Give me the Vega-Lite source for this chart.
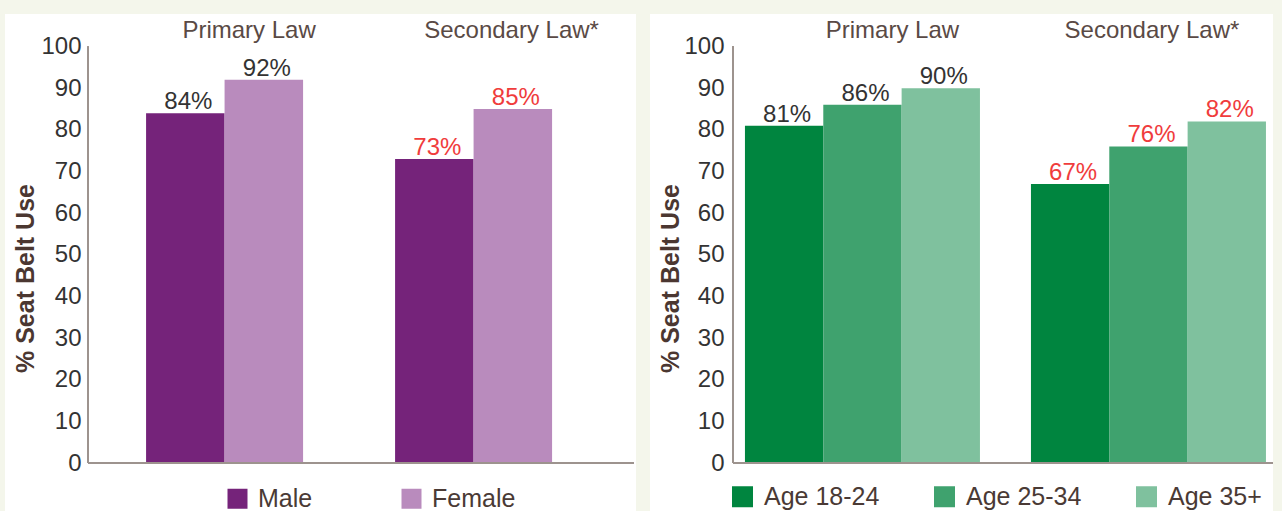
{
  "$schema": "https://vega.github.io/schema/vega-lite/v6.json",
  "background": "#f4f6eb",
  "padding": {"left": 5, "top": 14, "right": 9, "bottom": 0},
  "spacing": 14,
  "config": {"view": {"fill": "white", "stroke": null}, "font": "Liberation Sans"},
  "resolve": {"scale": {"color": "independent"}, "legend": {"color": "independent"}},
  "hconcat": [
    {
      "width": 631,
      "height": 497,
      "data": {"values": [
        {"law": "Primary Law", "group": "Male", "value": 84, "label": "84%"},
        {"law": "Primary Law", "group": "Female", "value": 92, "label": "92%"},
        {"law": "Secondary Law*", "group": "Male", "value": 73, "label": "73%"},
        {"law": "Secondary Law*", "group": "Female", "value": 85, "label": "85%"}
      ]},
      "layer": [
        {
          "mark": {"type": "bar"},
          "encoding": {
            "x": {"field": "law", "type": "nominal",
              "scale": {"type": "band", "domain": ["Primary Law", "Secondary Law*"], "paddingInner": 0.3695, "paddingOuter": 0.4518, "align": 0.627},
              "axis": {"orient": "top", "offset": -23.5, "ticks": false, "tickSize": 0, "domain": false, "labelPadding": 0, "labelAngle": 0, "labelBaseline": "alphabetic", "labelFontSize": 24, "labelColor": "#5a4a45", "labelFont": "Liberation Sans", "labelLimit": 400, "title": null,
                "labelOffset": {"condition": {"test": "datum.value === 'Primary Law'", "value": 24.5}, "value": 38}}},
            "xOffset": {"field": "group", "type": "nominal", "scale": {"type": "band", "domain": ["Male", "Female"], "range": [0, 157], "paddingInner": 0, "paddingOuter": 0}},
            "y": {"field": "value", "type": "quantitative",
              "scale": {"domain": [-11.52, 107.8], "nice": false, "zero": false},
              "axis": {"orient": "left", "offset": -83, "values": [0, 10, 20, 30, 40, 50, 60, 70, 80, 90, 100], "domain": false, "ticks": false, "grid": false, "labelPadding": 7, "labelFontSize": 24, "labelColor": "#333333", "labelFont": "Liberation Sans",
                "title": "% Seat Belt Use", "titleFont": "Liberation Sans", "titleFontSize": 25, "titleFontWeight": "bold", "titleColor": "#4b3731", "titleX": -55, "titleY": 264, "titleBaseline": "alphabetic", "titleAngle": -90}},
            "y2": {"datum": 0},
            "color": {"field": "group", "type": "nominal",
              "scale": {"domain": ["Male", "Female"], "range": ["#75237a", "#b98bbd"]},
              "legend": {"orient": "none", "legendX": 220, "legendY": 472, "direction": "horizontal", "title": null, "symbolType": "square", "symbolSize": 400, "symbolStrokeWidth": 0, "symbolOpacity": 1, "labelFontSize": 25, "labelColor": "#4a3a35", "labelFont": "Liberation Sans", "columnPadding": 86, "labelOffset": 8, "padding": 0}}
          }
        },
        {
          "mark": {"type": "text", "baseline": "alphabetic", "dy": -4, "dx": 3, "fontSize": 24, "font": "Liberation Sans"},
          "encoding": {
            "x": {"field": "law", "type": "nominal",
              "scale": {"type": "band", "domain": ["Primary Law", "Secondary Law*"], "paddingInner": 0.3695, "paddingOuter": 0.4518, "align": 0.627}, "axis": null},
            "xOffset": {"field": "group", "type": "nominal", "scale": {"type": "band", "domain": ["Male", "Female"], "range": [0, 157], "paddingInner": 0, "paddingOuter": 0}},
            "y": {"field": "value", "type": "quantitative"},
            "text": {"field": "label"},
            "color": {"condition": {"test": "datum.law === 'Primary Law'", "value": "#333333"}, "value": "#f03c3c"}
          }
        },
        {
          "mark": {"type": "rule", "color": "#9d938e", "strokeWidth": 2},
          "encoding": {
            "x": {"datum": 0, "type": "quantitative", "scale": {"domain": [-0.15201, 1.00366], "nice": false, "zero": false}, "axis": null},
            "x2": {"datum": 1},
            "y": {"datum": 0, "type": "quantitative"}
          }
        },
        {
          "mark": {"type": "rule", "color": "#9d938e", "strokeWidth": 2},
          "encoding": {
            "x": {"datum": 0, "type": "quantitative", "scale": {"domain": [-0.15201, 1.00366], "nice": false, "zero": false}, "axis": null},
            "y": {"datum": 0, "type": "quantitative"},
            "y2": {"datum": 100}
          }
        }
      ],
      "resolve": {"scale": {"x": "independent", "xOffset": "independent"}, "axis": {"x": "independent"}}
    },
    {
      "width": 623,
      "height": 497,
      "data": {"values": [
        {"law": "Primary Law", "group": "Age 18-24", "value": 81, "label": "81%"},
        {"law": "Primary Law", "group": "Age 25-34", "value": 86, "label": "86%"},
        {"law": "Primary Law", "group": "Age 35+", "value": 90, "label": "90%"},
        {"law": "Secondary Law*", "group": "Age 18-24", "value": 67, "label": "67%"},
        {"law": "Secondary Law*", "group": "Age 25-34", "value": 76, "label": "76%"},
        {"law": "Secondary Law*", "group": "Age 35+", "value": 82, "label": "82%"}
      ]},
      "layer": [
        {
          "mark": {"type": "bar"},
          "encoding": {
            "x": {"field": "law", "type": "nominal",
              "scale": {"type": "band", "domain": ["Primary Law", "Secondary Law*"], "paddingInner": 0.1783, "paddingOuter": 0.1783, "align": 0.931},
              "axis": {"orient": "top", "offset": -23.5, "ticks": false, "tickSize": 0, "domain": false, "labelPadding": 0, "labelAngle": 0, "labelBaseline": "alphabetic", "labelFontSize": 24, "labelColor": "#5a4a45", "labelFont": "Liberation Sans", "labelLimit": 400, "title": null,
                "labelOffset": {"condition": {"test": "datum.value === 'Primary Law'", "value": 30}, "value": 3.5}}},
            "xOffset": {"field": "group", "type": "nominal", "scale": {"type": "band", "domain": ["Age 18-24", "Age 25-34", "Age 35+"], "range": [0, 235], "paddingInner": 0, "paddingOuter": 0}},
            "y": {"field": "value", "type": "quantitative",
              "scale": {"domain": [-11.52, 107.8], "nice": false, "zero": false},
              "axis": {"orient": "left", "offset": -83, "values": [0, 10, 20, 30, 40, 50, 60, 70, 80, 90, 100], "domain": false, "ticks": false, "grid": false, "labelPadding": 9, "labelFontSize": 24, "labelColor": "#333333", "labelFont": "Liberation Sans",
                "title": "% Seat Belt Use", "titleFont": "Liberation Sans", "titleFontSize": 25, "titleFontWeight": "bold", "titleColor": "#4b3731", "titleX": -55, "titleY": 264, "titleBaseline": "alphabetic", "titleAngle": -90}},
            "y2": {"datum": 0},
            "color": {"field": "group", "type": "nominal",
              "scale": {"domain": ["Age 18-24", "Age 25-34", "Age 35+"], "range": ["#00853f", "#3fa26e", "#7fc19e"]},
              "legend": {"orient": "none", "legendX": 80, "legendY": 470, "direction": "horizontal", "title": null, "symbolType": "square", "symbolSize": 441, "symbolStrokeWidth": 0, "symbolOpacity": 1, "labelFontSize": 25, "labelColor": "#4a3a35", "labelFont": "Liberation Sans", "columnPadding": 52, "labelOffset": 9, "padding": 0}}
          }
        },
        {
          "mark": {"type": "text", "baseline": "alphabetic", "dy": -4, "dx": 3, "fontSize": 24, "font": "Liberation Sans"},
          "encoding": {
            "x": {"field": "law", "type": "nominal",
              "scale": {"type": "band", "domain": ["Primary Law", "Secondary Law*"], "paddingInner": 0.1783, "paddingOuter": 0.1783, "align": 0.931}, "axis": null},
            "xOffset": {"field": "group", "type": "nominal", "scale": {"type": "band", "domain": ["Age 18-24", "Age 25-34", "Age 35+"], "range": [0, 235], "paddingInner": 0, "paddingOuter": 0}},
            "y": {"field": "value", "type": "quantitative"},
            "text": {"field": "label"},
            "color": {"condition": {"test": "datum.law === 'Primary Law'", "value": "#333333"}, "value": "#f03c3c"}
          }
        },
        {
          "mark": {"type": "rule", "color": "#9d938e", "strokeWidth": 2},
          "encoding": {
            "x": {"datum": 0, "type": "quantitative", "scale": {"domain": [-0.153704, 1.0], "nice": false, "zero": false}, "axis": null},
            "x2": {"datum": 1},
            "y": {"datum": 0, "type": "quantitative"}
          }
        },
        {
          "mark": {"type": "rule", "color": "#9d938e", "strokeWidth": 2},
          "encoding": {
            "x": {"datum": 0, "type": "quantitative", "scale": {"domain": [-0.153704, 1.0], "nice": false, "zero": false}, "axis": null},
            "y": {"datum": 0, "type": "quantitative"},
            "y2": {"datum": 100}
          }
        }
      ],
      "resolve": {"scale": {"x": "independent", "xOffset": "independent"}, "axis": {"x": "independent"}}
    }
  ]
}
